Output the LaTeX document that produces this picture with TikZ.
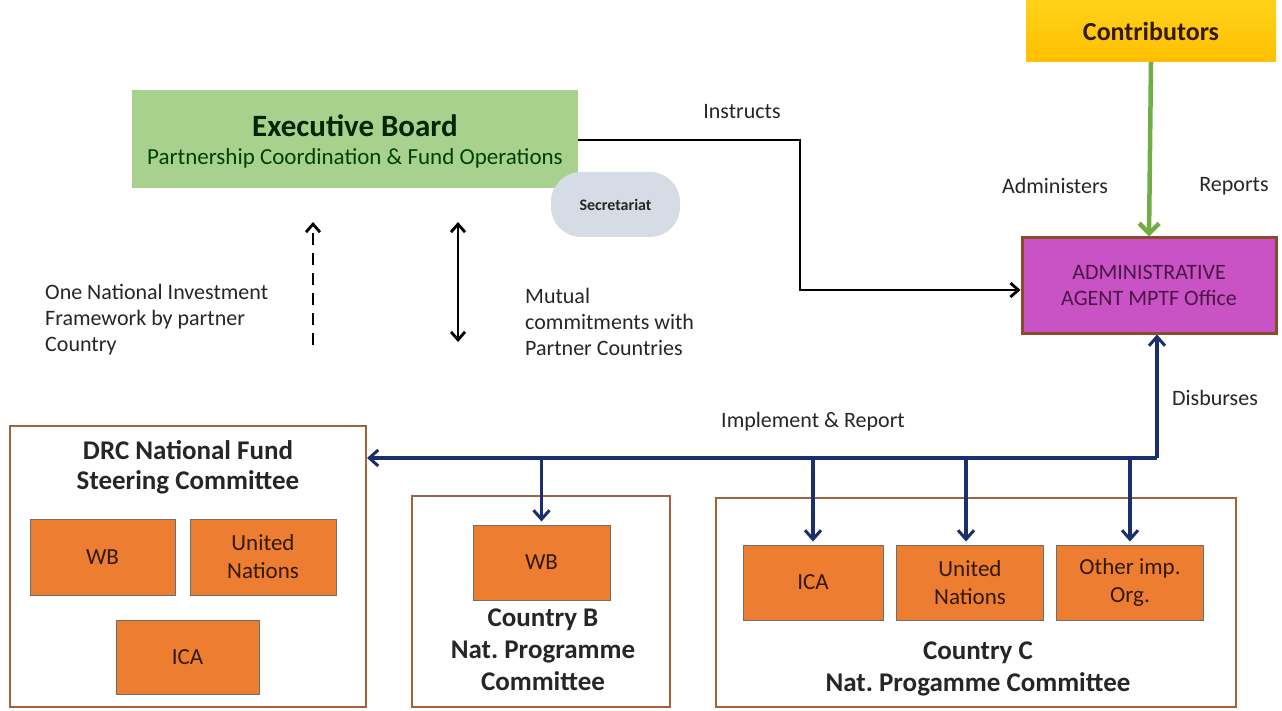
\documentclass[tikz,border=0pt]{standalone}
\usepackage{fontspec}
\setmainfont{Carlito}
\usetikzlibrary{arrows.meta,positioning,calc}
\frenchspacing
\definecolor{boardgreen}{HTML}{A9D18E}
\definecolor{secgray}{HTML}{D6DCE5}
\definecolor{contribtop}{HTML}{FFD21A}
\definecolor{contribbot}{HTML}{FFBF00}
\definecolor{adminmag}{HTML}{C952C4}
\definecolor{adminborder}{HTML}{8B4A2B}
\definecolor{admintext}{HTML}{4A1747}
\definecolor{orgorange}{HTML}{ED7D31}
\definecolor{orgborder}{HTML}{6E6E6E}
\definecolor{navy}{HTML}{1A2F6E}
\definecolor{boxbrown}{HTML}{A0643C}
\definecolor{arrowgreen}{HTML}{70AD47}
\definecolor{txt}{HTML}{262626}
\tikzset{
  orgbox/.style={draw=orgborder, line width=1pt, fill=orgorange, text=black!80!orange,
    align=center, inner sep=0pt, font=\fontsize{23}{28}\selectfont},
  frame/.style={draw=boxbrown, line width=2pt, fill=white, inner sep=0pt},
  lbl/.style={text=txt, inner sep=0pt, font=\fontsize{22}{26}\selectfont},
  ttl/.style={text=txt, align=center, inner sep=0pt},
  blk/.style={line width=2.8pt, -{Straight Barb[length=8pt,width=14pt,line width=2.8pt]}},
  nav/.style={draw=navy, line width=3.5pt, -{Straight Barb[length=9pt,width=16pt,line width=3pt]}},
}
\begin{document}
\begin{tikzpicture}[x=1pt,y=-1pt]
\useasboundingbox (0,0) rectangle (1282,711);
% top nodes
\node[fill=boardgreen, minimum width=446, minimum height=98, inner sep=0pt] (board) at (355,139) {};
\node[text=black!85!green, inner sep=0pt, font=\fontsize{31}{36}\bfseries] (boardt) at (355,126) {Executive Board};
\node[text=black!75!green, inner sep=0pt, font=\fontsize{23}{27}\selectfont] (boards) at (355,158) {Partnership Coordination \& Fund Operations};
\node[fill=secgray, rounded corners=30pt, minimum width=129, minimum height=65, inner sep=0pt,
  font=\fontsize{16}{18}\bfseries, text=txt] (sec) at (615.5,204.5) {Secretariat};
\node[top color=contribtop, bottom color=contribbot, minimum width=250, minimum height=62, inner sep=0pt,
  font=\fontsize{26}{30}\bfseries, text=black!80!orange] (contrib) at (1151,31) {Contributors};
\node[fill=adminmag, draw=adminborder, line width=3pt, minimum width=254, minimum height=95,
  inner sep=0pt, align=center, text=admintext, font=\fontsize{22}{26}\selectfont] (admin) at (1149,285.5)
  {ADMINISTRATIVE\\AGENT MPTF Office};
% labels
\node[lbl] (instr) at (742,112) {Instructs};
\node[lbl] (adm) at (1055,186) {Administers};
\node[lbl] (rep) at (1234,186) {Reports};
\node[lbl] (disb) at (1215,398) {Disburses};
\node[lbl] (impl) at (813,422) {Implement \& Report};
\node[lbl, anchor=west, align=left] (onif) at (45,320) {One National Investment\\Framework by partner\\Country};
\node[lbl, anchor=west, align=left] (mutual) at (525,322) {Mutual\\commitments with\\Partner Countries};
% bottom frames
\node[frame, minimum width=356, minimum height=281] (drc) at (188,566.5) {};
\node[ttl, font=\fontsize{27}{30}\bfseries] (drct) at (188,467) {DRC National Fund\\Steering Committee};
\node[orgbox, minimum width=145, minimum height=76] (drcwb) at (102.5,557) {WB};
\node[orgbox, minimum width=146, minimum height=76] (drcun) at (263,557) {United\\Nations};
\node[orgbox, minimum width=143, minimum height=74] (drcica) at (187.5,657) {ICA};
\node[frame, minimum width=258, minimum height=211] (cb) at (541,601.5) {};
\node[orgbox, minimum width=137, minimum height=75] (cbwb) at (541.5,562.5) {WB};
\node[ttl, font=\fontsize{27}{32}\bfseries] (cbt) at (543,650) {Country B\\Nat. Programme\\Committee};
\node[frame, minimum width=520, minimum height=209] (cc) at (976,602.5) {};
\node[orgbox, minimum width=140, minimum height=75] (ccica) at (813,582.5) {ICA};
\node[orgbox, minimum width=147, minimum height=75] (ccun) at (970,582.5) {United\\Nations};
\node[orgbox, minimum width=147, minimum height=75] (ccoth) at (1130,582.5) {Other imp.\\Org.};
\node[ttl, font=\fontsize{27}{32}\bfseries] (cct) at (978,669) {Country C\\Nat. Progamme Committee};
% connectors
\coordinate (bend1) at (800,140);
\coordinate (bend2) at (800,290);
\draw[blk] (board.east |- bend1) -- (bend1) -- (bend2) -- (admin.west |- bend2);
\draw[draw=arrowgreen, line width=4.5pt, -{Straight Barb[length=10pt,width=20pt,line width=4.5pt]}] (contrib.south) -- (admin.north);
\coordinate (dashlo) at (313,345);
\coordinate (dashhi) at (313,222);
\draw[line width=2.8pt, dash pattern=on 12pt off 8pt, -{Straight Barb[length=8pt,width=14pt,line width=2.8pt]}] (dashlo) -- (dashhi);
\coordinate (mutlo) at (458,342);
\coordinate (muthi) at (458,222);
\draw[line width=2.8pt, {Straight Barb[length=8pt,width=14pt,line width=2.8pt]}-{Straight Barb[length=8pt,width=14pt,line width=2.8pt]}] (mutlo) -- (muthi);
% navy distribution
\coordinate (hub) at (1157,458);
\coordinate (jb) at (541.5,458);
\coordinate (jc1) at (813,458);
\coordinate (jc2) at (966,458);
\coordinate (jc3) at (1130,458);
\draw[nav] (hub) -- (hub |- admin.south);
\draw[nav] (hub) -- (hub -| drc.east);
\draw[nav, shorten >=3pt] (jb) -- (jb |- cbwb.north);
\draw[nav, shorten >=3pt] (jc1) -- (jc1 |- ccica.north);
\draw[nav, shorten >=3pt] (jc2) -- (jc2 |- ccun.north);
\draw[nav, shorten >=3pt] (jc3) -- (jc3 |- ccoth.north);
\end{tikzpicture}
\end{document}
